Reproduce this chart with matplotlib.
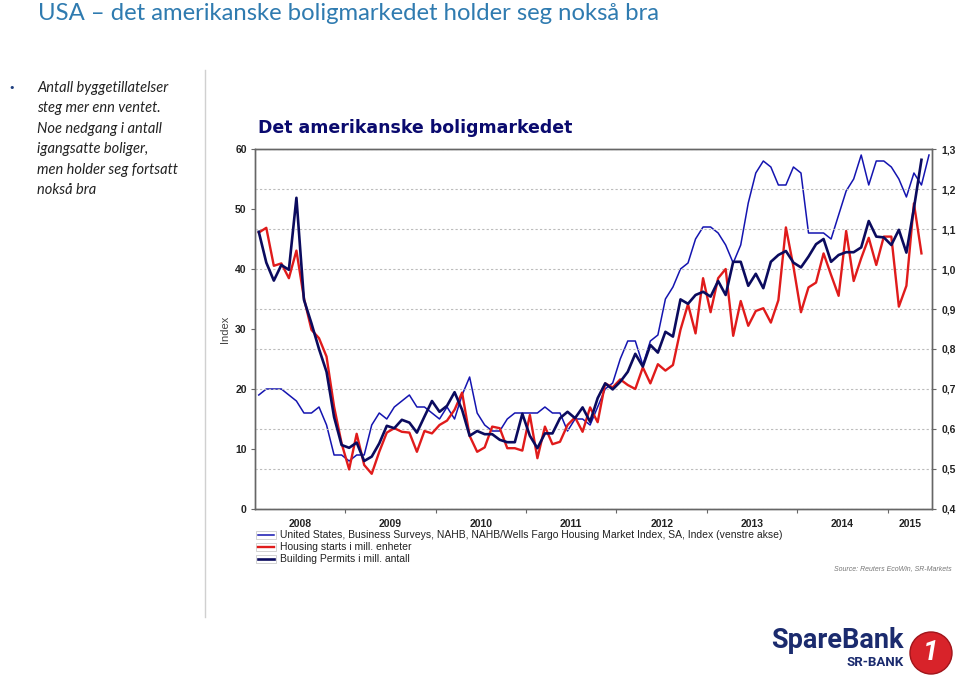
import numpy as np
import matplotlib
matplotlib.use("Agg")
import matplotlib.pyplot as plt
from matplotlib.lines import Line2D
from matplotlib.patches import Rectangle, Ellipse
from matplotlib.ticker import FuncFormatter

# monthly data, Jan 2008 - Jun 2015
nahb = [19, 20, 20, 20, 19, 18, 16, 16, 17, 14, 9, 9,
        8, 9, 9, 14, 16, 15, 17, 18, 19, 17, 17, 16,
        15, 17, 15, 19, 22, 16, 14, 13, 13, 15, 16, 16,
        16, 16, 17, 16, 16, 13, 15, 15, 14, 17, 20, 21,
        25, 28, 28, 24, 28, 29, 35, 37, 40, 41, 45, 47,
        47, 46, 44, 41, 44, 51, 56, 58, 57, 54, 54, 57,
        56, 46, 46, 46, 45, 49, 53, 55, 59, 54, 58, 58,
        57, 55, 52, 56, 54, 59]

starts = [1.091, 1.103, 1.008, 1.014, 0.977, 1.046, 0.927, 0.848, 0.827, 0.781, 0.656, 0.564,
          0.499, 0.588, 0.510, 0.488, 0.543, 0.591, 0.602, 0.593, 0.591, 0.543, 0.595, 0.589,
          0.610, 0.621, 0.648, 0.691, 0.583, 0.543, 0.554, 0.606, 0.602, 0.552, 0.552, 0.546,
          0.635, 0.527, 0.606, 0.562, 0.568, 0.610, 0.629, 0.593, 0.654, 0.617, 0.714, 0.704,
          0.724, 0.710, 0.700, 0.754, 0.714, 0.762, 0.746, 0.760, 0.848, 0.912, 0.839, 0.977,
          0.892, 0.977, 1.000, 0.833, 0.920, 0.858, 0.895, 0.902, 0.866, 0.922, 1.104, 1.006,
          0.892, 0.954, 0.966, 1.039, 0.985, 0.933, 1.095, 0.970, 1.027, 1.078, 1.010, 1.081,
          1.081, 0.906, 0.958, 1.164, 1.039]

permits = [1.093, 1.016, 0.971, 1.010, 0.998, 1.178, 0.923, 0.864, 0.800, 0.743, 0.630, 0.560,
           0.553, 0.566, 0.520, 0.531, 0.564, 0.608, 0.602, 0.623, 0.616, 0.591, 0.631, 0.670,
           0.643, 0.658, 0.692, 0.648, 0.583, 0.595, 0.587, 0.587, 0.573, 0.567, 0.567, 0.638,
           0.583, 0.552, 0.589, 0.589, 0.627, 0.643, 0.627, 0.654, 0.618, 0.677, 0.714, 0.699,
           0.718, 0.743, 0.788, 0.756, 0.810, 0.791, 0.843, 0.831, 0.924, 0.913, 0.935, 0.943,
           0.931, 0.970, 0.935, 1.018, 1.018, 0.958, 0.988, 0.952, 1.018, 1.035, 1.045, 1.016,
           1.004, 1.031, 1.062, 1.075, 1.018, 1.035, 1.042, 1.042, 1.054, 1.120, 1.081, 1.079,
           1.060, 1.098, 1.041, 1.152, 1.273]

years = ["2008", "2009", "2010", "2011", "2012", "2013", "2014", "2015"]
legend_labels = ["United States, Business Surveys, NAHB, NAHB/Wells Fargo Housing Market Index, SA, Index (venstre akse)",
                 "Housing starts i mill. enheter",
                 "Building Permits i mill. antall"]
bullet_lines = ["Antall byggetillatelser", "steg mer enn ventet.", "Noe nedgang i antall",
                "igangsatte boliger,", "men holder seg fortsatt", "nokså bra"]

c_nahb = "#1414B0"
c_starts = "#E01B1B"
c_permits = "#0B0B5E"

W, H = 960, 676
fig = plt.figure(figsize=(W / 100, H / 100), dpi=100)


def fx(x):
    return x / W


def fy(y):
    return 1 - y / H


fig.text(fx(38), fy(14), "USA \u2013 det amerikanske boligmarkedet holder seg nokså bra",
         fontsize=17.2, color="#2F7BB0", family="Lato", va="center", ha="left")

fig.text(fx(8), fy(88), "\u2022", fontsize=8, color="#1F3F7F", va="center")
for k, line in enumerate(bullet_lines):
    fig.text(fx(37), fy(88 + k * 20.4), line, fontsize=10.5, style="italic",
             family="Lato", color="#222222", va="center")

fig.add_artist(Line2D([fx(205), fx(205)], [fy(70), fy(617)], color="#D0D0D0", lw=1))

fig.text(fx(258), fy(128), "Det amerikanske boligmarkedet", fontsize=12.5, weight="bold",
         family="DejaVu Sans", color="#0A0A6E", va="center")

ax = fig.add_axes([fx(255), fy(509), fx(932 - 255), (509 - 149) / H])
ax2 = ax.twinx()

x = np.arange(len(nahb))
ax.plot(x, nahb, color=c_nahb, lw=1.1)
ax2.plot(np.arange(len(starts)), starts, color=c_starts, lw=1.7)
ax2.plot(np.arange(len(permits)), permits, color=c_permits, lw=1.9)

ax.set_xlim(-0.5, 89.4)
ax.set_ylim(0, 60)
ax2.set_ylim(0.4, 1.3)
ax.set_yticks(np.arange(0, 61, 10))
ax2.set_yticks(np.arange(0.4, 1.31, 0.1))
ax2.yaxis.set_major_formatter(FuncFormatter(lambda v, p: f"{v:.1f}".replace(".", ",")))

ax.set_xticks(np.arange(11.5, 89, 12))
ax.set_xticklabels([])
year_mid = [min(12 * k + 5.5, 86.45) for k in range(len(years))]
ax.set_xticks(year_mid, minor=True)
ax.set_xticklabels(years, minor=True)
ax.tick_params(axis="x", which="minor", length=0, pad=7)
ax.tick_params(axis="x", which="major", length=3, color="#666666")

for lab in ax.get_xticklabels(minor=True) + ax.get_yticklabels() + ax2.get_yticklabels():
    lab.set_fontsize(7.5)
    lab.set_fontweight("bold")
    lab.set_family("Liberation Sans")
    lab.set_color("#222222")
ax.tick_params(axis="y", length=3, pad=3, color="#666666")
ax2.tick_params(axis="y", length=3, pad=4, color="#666666")

ax2.grid(axis="y", color="#BBBBBB", linestyle=(0, (2, 2)), lw=0.8)
ax.set_ylabel("Index", fontsize=8, family="Liberation Sans", color="#444444", labelpad=4)
for a in (ax, ax2):
    for s in a.spines.values():
        s.set_color("#666666")
        s.set_linewidth(1.0)

# legend below the chart
for k, (lab, col, lw) in enumerate(zip(legend_labels, [c_nahb, c_starts, c_permits], [1.1, 1.7, 1.9])):
    yy = 535 + k * 12
    fig.add_artist(Rectangle((fx(256), fy(yy + 4)), fx(20), 8 / H, fill=False,
                             edgecolor="#CCCCCC", lw=0.6))
    fig.add_artist(Line2D([fx(258), fx(274)], [fy(yy), fy(yy)], color=col, lw=lw))
    fig.text(fx(280), fy(yy), lab, fontsize=7.45, family="Liberation Sans",
             color="#222222", va="center")

fig.text(fx(952), fy(569), "Source: Reuters EcoWin, SR-Markets", fontsize=5.0,
         family="Liberation Sans", style="italic", color="#777777", ha="right", va="center")

# logo
fig.text(fx(771), fy(641), "SpareBank", fontsize=19.5, weight="bold", family="Roboto",
         color="#1B2B6E", va="center", ha="left")
fig.text(fx(904), fy(663), "SR-BANK", fontsize=9.5, weight="bold", family="Roboto",
         color="#1B2B6E", va="center", ha="right")
fig.add_artist(Ellipse((fx(931), fy(653)), 42 / W, 42 / H, transform=fig.transFigure,
                       facecolor="#D8232A", edgecolor="#A0141A", lw=1))
fig.text(fx(931), fy(653), "1", fontsize=20, weight="bold", family="Roboto", style="italic",
         color="white", ha="center", va="center")

fig.savefig("out.png", dpi=100)
